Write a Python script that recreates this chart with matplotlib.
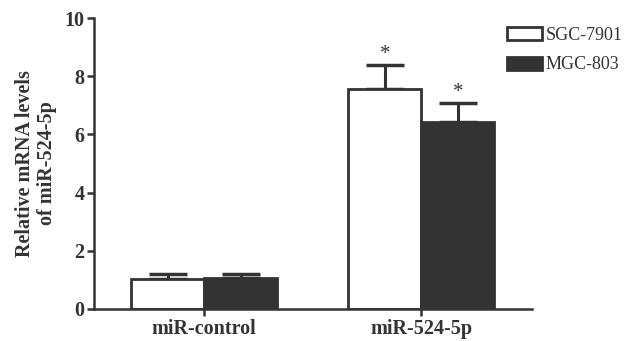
import numpy as np
import matplotlib.pyplot as plt

plt.rcParams['font.family'] = ['Liberation Serif', 'DejaVu Serif']

groups = ['miR-control', 'miR-524-5p']
series = ['SGC-7901', 'MGC-803']
means = {'SGC-7901': [1.02, 7.55], 'MGC-803': [1.05, 6.42]}
errs = {'SGC-7901': [0.17, 0.83], 'MGC-803': [0.14, 0.65]}
stars = {'SGC-7901': ['', '*'], 'MGC-803': ['', '*']}

dark = '#333333'
faces = {'SGC-7901': 'white', 'MGC-803': dark}

fig = plt.figure(figsize=(6.33, 3.41), dpi=100)
ax = fig.add_axes([0.1485, 0.094, 0.692, 0.853])

x = np.arange(len(groups))
w = 0.336
offsets = [-w / 2, w / 2]
for s, off in zip(series, offsets):
    xs = x + off
    ax.bar(xs, means[s], width=w, color=faces[s], edgecolor=dark,
           linewidth=2, label=s, zorder=2)
    ax.errorbar(xs, means[s], yerr=[np.zeros(len(xs)), errs[s]], fmt='none',
                ecolor=dark, elinewidth=2.2, capsize=13.5, capthick=2.5, zorder=1)
    for xi, m, e, st in zip(xs, means[s], errs[s], stars[s]):
        if st:
            ax.text(xi, m + e + 0.05, st, ha='center', va='bottom',
                    fontsize=15, color=dark)

ax.set_xlim(-0.507, 1.51)
ax.set_ylim(0, 10)
ax.set_yticks([0, 2, 4, 6, 8, 10])
ax.set_xticks(x)
ax.set_xticklabels(groups, fontweight='bold', fontsize=14.5, color='#333333')
for lab in ax.get_yticklabels():
    lab.set_fontweight('bold')
    lab.set_fontsize(14.5)
    lab.set_color('#333333')
ax.spines['top'].set_visible(False)
ax.spines['right'].set_visible(False)
for sp in ('left', 'bottom'):
    ax.spines[sp].set_linewidth(1.8)
    ax.spines[sp].set_color(dark)
ax.tick_params(axis='both', length=5, width=1.8, color=dark, pad=2)
ax.set_ylabel('Relative mRNA levels\nof miR-524-5p', fontweight='bold',
              fontsize=14.5, color='#333333', labelpad=5, linespacing=1.15)

leg = ax.legend(loc='upper left', bbox_to_anchor=(0.943, 0.97), frameon=False,
                fontsize=13, handlelength=1.95, handleheight=0.75,
                handletextpad=0.2, labelspacing=0.7, borderaxespad=0,
                borderpad=0)
for t in leg.get_texts():
    t.set_color('#333333')

fig.savefig('out.png', dpi=100)
